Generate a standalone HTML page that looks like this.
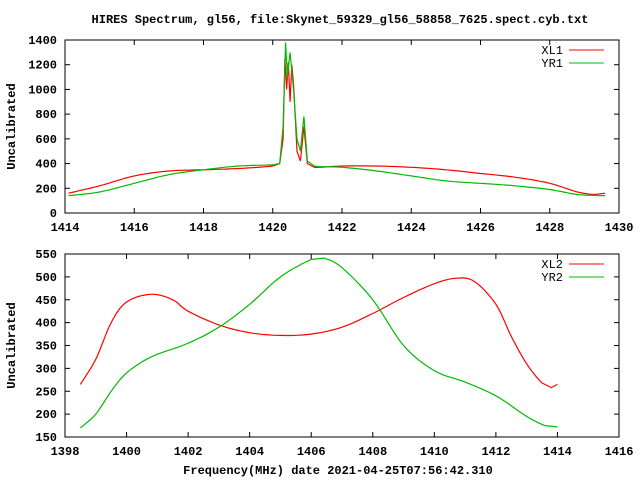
<!DOCTYPE html><html><head><style>body{margin:0;background:#fff}svg text{font-family:"Liberation Mono",monospace;font-size:12px;font-weight:bold}</style></head><body>
<svg id="s" width="640" height="480" xmlns="http://www.w3.org/2000/svg"></svg>
<script>
const s=document.getElementById('s');let h='';
h+='<text x="340" y="23" text-anchor="middle">HIRES Spectrum, gl56, file:Skynet_59329_gl56_58858_7625.spect.cyb.txt</text>';
function smooth(d){const o=[];for(let i=0;i<d.length-1;i++){const p0=d[Math.max(0,i-1)],p1=d[i],p2=d[i+1],p3=d[Math.min(d.length-1,i+2)];
 const sharp=(p2[0]-p1[0])<0.5;if(sharp){o.push(p1);continue;}
 for(let k=0;k<8;k++){const t=k/8,t2=t*t,t3=t2*t;const f=(a,b,c,e)=>0.5*(2*b+(-a+c)*t+(2*a-5*b+4*c-e)*t2+(-a+3*b-3*c+e)*t3);o.push([f(p0[0],p1[0],p2[0],p3[0]),f(p0[1],p1[1],p2[1],p3[1])]);}}
 o.push(d[d.length-1]);return o;}
function plot(L,R,T,B,x0,x1,y0,y1,xt,yt,series,names){
 const X=v=>L+(v-x0)/(x1-x0)*(R-L),Y=v=>B-(v-y0)/(y1-y0)*(B-T);
 for(let v=x0;v<=x1;v+=xt){const x=X(v);h+=`<line x1="${x}" y1="${B}" x2="${x}" y2="${B-5}" stroke="#000"/><line x1="${x}" y1="${T}" x2="${x}" y2="${T+5}" stroke="#000"/><text x="${x}" y="${B+18}" text-anchor="middle">${v}</text>`;}
 for(let v=y0;v<=y1;v+=yt){const y=Y(v);h+=`<line x1="${L}" y1="${y}" x2="${L+5}" y2="${y}" stroke="#000"/><line x1="${R}" y1="${y}" x2="${R-5}" y2="${y}" stroke="#000"/><text x="${L-8}" y="${y+4}" text-anchor="end">${v}</text>`;}
 h+=`<text transform="translate(15,${(T+B)/2}) rotate(-90)" text-anchor="middle">Uncalibrated</text>`;
 const cols=['#f00','#0b0'];
 series.forEach((d,i)=>{d=smooth(d);h+=`<polyline fill="none" stroke="${cols[i]}" stroke-width="1.2" points="${d.map(p=>X(p[0]).toFixed(1)+','+Y(p[1]).toFixed(1)).join(' ')}"/>`;
  const ly=T+10+i*13;h+=`<text x="${R-56}" y="${ly+4}" text-anchor="end" style="font-weight:normal">${names[i]}</text><line x1="${R-50}" y1="${ly}" x2="${R-15}" y2="${ly}" stroke="${cols[i]}"/>`;});
 h+=`<rect x="${L}" y="${T}" width="${R-L}" height="${B-T}" fill="none" stroke="#000"/>`;
}
plot(65,619,40,213,1414,1430,0,1400,2,200,[
[[1414.1,160],[1415,220],[1416,300],[1417,340],[1418,350],[1419,360],[1420,380],[1420.2,400],[1420.3,600],[1420.35,1250],[1420.4,1000],[1420.45,1220],[1420.5,900],[1420.55,1200],[1420.6,1050],[1420.7,500],[1420.8,420],[1420.9,700],[1421,400],[1421.2,370],[1422,380],[1423,380],[1424,370],[1425,350],[1426,320],[1427,290],[1428,240],[1428.8,170],[1429.3,150],[1429.6,160]],
[[1414.1,140],[1415,170],[1416,240],[1417,310],[1418,350],[1419,380],[1420,390],[1420.2,400],[1420.3,700],[1420.37,1380],[1420.42,1100],[1420.5,1300],[1420.6,1000],[1420.7,600],[1420.8,500],[1420.9,780],[1421,420],[1421.2,380],[1422,370],[1423,340],[1424,300],[1425,260],[1426,240],[1427,220],[1428,190],[1428.8,150],[1429.6,140]]],['XL1','YR1']);
plot(65,619,254,437,1398,1416,150,550,2,50,[
[[1398.5,265],[1399,320],[1399.5,400],[1400,445],[1400.8,462],[1401.5,450],[1402,425],[1403,395],[1404,378],[1405,372],[1406,375],[1407,390],[1408,420],[1409,455],[1410,485],[1410.7,497],[1411.3,490],[1412,440],[1412.5,370],[1413,310],[1413.5,268],[1413.8,258],[1414,265]],
[[1398.5,170],[1399,200],[1399.5,250],[1400,290],[1400.8,325],[1402,355],[1403,390],[1404,440],[1405,500],[1406,538],[1406.4,541],[1407,520],[1408,450],[1409,350],[1410,295],[1411,270],[1412,240],[1413,195],[1413.6,175],[1414,172]]],['XL2','YR2']);
h+='<text x="338" y="474" text-anchor="middle">Frequency(MHz) date 2021-04-25T07:56:42.310</text>';
s.innerHTML=h;
</script></body></html>
